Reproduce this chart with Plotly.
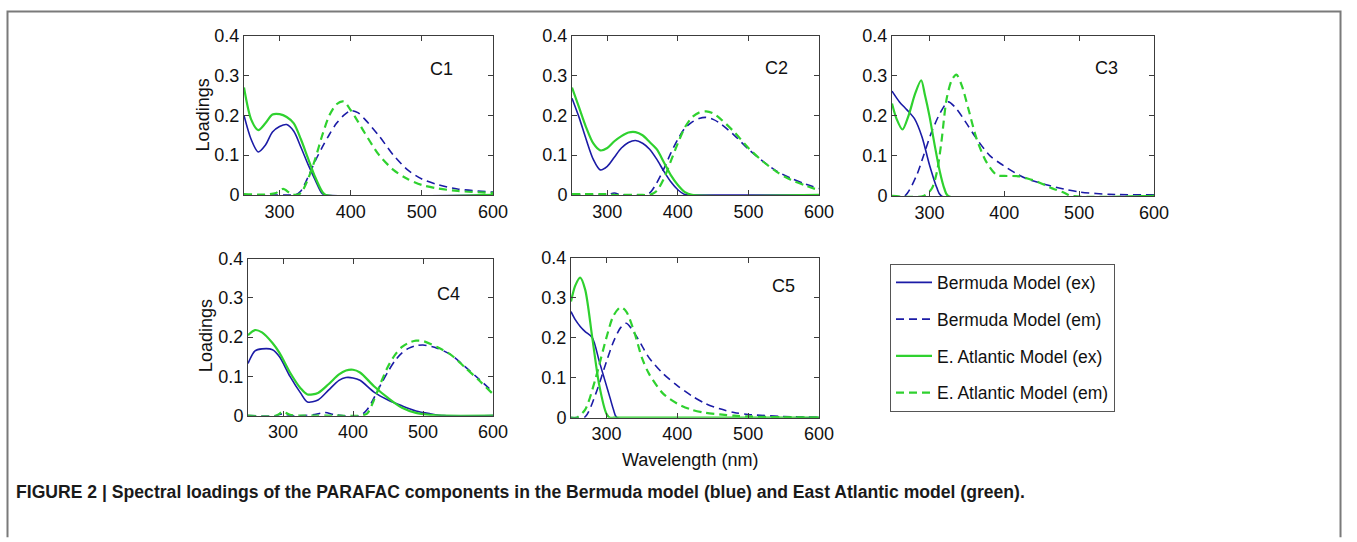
import plotly.graph_objects as go

W, H = 1357, 542

# ---- spectral loadings (wavelength in nm, loading) ----
# C1
C1_EX_WL = [250, 260, 270, 280, 290, 300, 310, 320, 330, 340, 350, 360, 365, 600]
C1_BERMUDA_EX = [0.200, 0.140, 0.108, 0.125, 0.158, 0.172, 0.177, 0.160, 0.120, 0.077, 0.038, 0.003, 0, 0]
C1_ATLANTIC_EX = [0.270, 0.190, 0.163, 0.180, 0.202, 0.203, 0.196, 0.180, 0.140, 0.092, 0.045, 0.008, 0, 0]
C1_EM_WL = [250, 280, 295, 305, 315, 322, 330, 340, 350, 360, 370, 380, 390, 400, 410, 420,
            440, 460, 480, 500, 520, 550, 600]
C1_BERMUDA_EM = [0, 0, 0, 0, 0, 0, 0.010, 0.045, 0.085, 0.120, 0.152, 0.180, 0.200, 0.212, 0.207,
                 0.190, 0.148, 0.100, 0.063, 0.040, 0.027, 0.015, 0.007]
C1_ATLANTIC_EM = [0.002, 0.001, 0.005, 0.015, 0.004, 0, 0.005, 0.040, 0.090, 0.150, 0.200, 0.228,
                  0.235, 0.213, 0.185, 0.155, 0.100, 0.063, 0.040, 0.025, 0.017, 0.010, 0.005]

# C2
C2_EX_WL = [250, 260, 270, 280, 290, 300, 310, 320, 330, 340, 350, 360, 370, 380, 390, 400, 410, 420, 600]
C2_BERMUDA_EX = [0.243, 0.195, 0.140, 0.090, 0.063, 0.072, 0.095, 0.118, 0.132, 0.137, 0.130, 0.115,
                 0.090, 0.060, 0.033, 0.013, 0.001, 0, 0]
C2_ATLANTIC_EX = [0.270, 0.220, 0.170, 0.130, 0.112, 0.118, 0.135, 0.148, 0.157, 0.158, 0.150, 0.133,
                  0.115, 0.083, 0.050, 0.025, 0.007, 0, 0]
C2_EM_WL = [250, 300, 310, 320, 350, 360, 370, 380, 390, 400, 410, 420, 430, 440, 450, 460, 480,
            500, 520, 540, 560, 580, 600]
C2_BERMUDA_EM = [0, 0, 0.005, 0, 0, 0.005, 0.030, 0.065, 0.105, 0.140, 0.168, 0.183, 0.192, 0.195,
                 0.190, 0.180, 0.150, 0.115, 0.085, 0.060, 0.042, 0.028, 0.016]
C2_ATLANTIC_EM = [0.002, 0.002, 0, 0, 0, 0, 0.010, 0.040, 0.085, 0.130, 0.170, 0.195, 0.207, 0.210,
                  0.205, 0.192, 0.158, 0.118, 0.085, 0.058, 0.038, 0.024, 0.012]

# C3
C3_BERMUDA_EX_WL = [250, 260, 270, 280, 290, 300, 310, 316, 600]
C3_BERMUDA_EX = [0.262, 0.235, 0.215, 0.193, 0.148, 0.078, 0.020, 0, 0]
C3_ATLANTIC_EX_WL = [250, 256, 264, 272, 281, 289, 294, 300, 307, 314, 320, 325, 600]
C3_ATLANTIC_EX = [0.231, 0.193, 0.166, 0.200, 0.256, 0.289, 0.252, 0.200, 0.127, 0.060, 0.018, 0, 0]
C3_BERMUDA_EM_WL = [250, 267, 283, 292, 303, 314, 325, 336, 350, 363, 381, 398, 416, 430, 456,
                    480, 500, 540, 600]
C3_BERMUDA_EM = [0, 0, 0.052, 0.100, 0.160, 0.206, 0.235, 0.218, 0.180, 0.143, 0.100, 0.077, 0.056,
                 0.043, 0.028, 0.017, 0.010, 0.004, 0.003]
C3_ATLANTIC_EM_WL = [250, 292, 303, 310, 316, 323, 330, 336, 343, 352, 363, 376, 390, 400, 420,
                     432, 445, 460, 480, 490, 600]
C3_ATLANTIC_EM = [0, 0, 0.018, 0.060, 0.135, 0.243, 0.290, 0.303, 0.277, 0.218, 0.143, 0.085, 0.052,
                  0.050, 0.049, 0.043, 0.035, 0.022, 0.008, 0, 0]

# C4
C4_EX_WL = [250, 260, 270, 285, 295, 310, 325, 335, 350, 365, 380, 390, 400, 410, 430, 450, 470,
            490, 510, 530, 600]
C4_BERMUDA_EX = [0.133, 0.165, 0.170, 0.168, 0.150, 0.100, 0.058, 0.035, 0.040, 0.065, 0.090, 0.097,
                 0.096, 0.090, 0.060, 0.040, 0.025, 0.012, 0.005, 0, 0]
C4_ATLANTIC_EX = [0.205, 0.218, 0.212, 0.185, 0.160, 0.110, 0.070, 0.054, 0.058, 0.080, 0.105, 0.115,
                  0.117, 0.110, 0.075, 0.045, 0.020, 0.007, 0.002, 0, 0]
C4_EM_WL = [250, 290, 300, 310, 330, 345, 360, 375, 410, 420, 430, 440, 450, 460, 470, 480, 490,
            500, 520, 540, 560, 580, 600]
C4_BERMUDA_EM = [0, 0, 0.005, 0, 0, 0.003, 0.008, 0.002, 0, 0.015, 0.045, 0.080, 0.112, 0.140,
                 0.160, 0.172, 0.178, 0.180, 0.172, 0.155, 0.125, 0.093, 0.060]
C4_ATLANTIC_EM = [0, 0, 0.010, 0.002, 0, 0, 0, 0, 0, 0.005, 0.040, 0.085, 0.125, 0.155, 0.175, 0.186,
                  0.191, 0.190, 0.175, 0.155, 0.123, 0.090, 0.055]

# C5
C5_EX_WL = [250, 256, 263, 270, 280, 290, 300, 305, 310, 315, 600]
C5_BERMUDA_EX = [0.265, 0.245, 0.228, 0.215, 0.200, 0.140, 0.080, 0.050, 0.020, 0, 0]
C5_ATLANTIC_EX = [0.290, 0.330, 0.350, 0.320, 0.200, 0.080, 0.010, 0, 0, 0, 0]
C5_EM_WL = [250, 258, 270, 285, 300, 310, 320, 328, 340, 350, 360, 380, 400, 420, 440, 460, 480,
            500, 550, 600]
C5_BERMUDA_EM = [0, 0, 0.002, 0.060, 0.140, 0.190, 0.225, 0.236, 0.210, 0.180, 0.150, 0.110, 0.080,
                 0.055, 0.035, 0.022, 0.013, 0.008, 0.003, 0.001]
C5_ATLANTIC_EM = [0, 0, 0.020, 0.100, 0.200, 0.255, 0.276, 0.265, 0.210, 0.150, 0.110, 0.060, 0.035,
                  0.020, 0.012, 0.008, 0.005, 0.003, 0.001, 0]

COMPONENTS = ["C1", "C2", "C3", "C4", "C5"]
X_TICKS = [300, 400, 500, 600]
Y_TICKS = [0, 0.1, 0.2, 0.3, 0.4]
Y_TICK_TEXT = ["0", "0.1", "0.2", "0.3", "0.4"]
SERIES_NAMES = ["Bermuda Model (ex)", "Bermuda Model (em)",
                "E. Atlantic Model (ex)", "E. Atlantic Model (em)"]

panel_series = [
    [(C1_EX_WL, C1_BERMUDA_EX), (C1_EM_WL, C1_BERMUDA_EM), (C1_EX_WL, C1_ATLANTIC_EX), (C1_EM_WL, C1_ATLANTIC_EM)],
    [(C2_EX_WL, C2_BERMUDA_EX), (C2_EM_WL, C2_BERMUDA_EM), (C2_EX_WL, C2_ATLANTIC_EX), (C2_EM_WL, C2_ATLANTIC_EM)],
    [(C3_BERMUDA_EX_WL, C3_BERMUDA_EX), (C3_BERMUDA_EM_WL, C3_BERMUDA_EM),
     (C3_ATLANTIC_EX_WL, C3_ATLANTIC_EX), (C3_ATLANTIC_EM_WL, C3_ATLANTIC_EM)],
    [(C4_EX_WL, C4_BERMUDA_EX), (C4_EM_WL, C4_BERMUDA_EM), (C4_EX_WL, C4_ATLANTIC_EX), (C4_EM_WL, C4_ATLANTIC_EM)],
    [(C5_EX_WL, C5_BERMUDA_EX), (C5_EM_WL, C5_BERMUDA_EM), (C5_EX_WL, C5_ATLANTIC_EX), (C5_EM_WL, C5_ATLANTIC_EM)],
]

# ---- styling ----
BLUE = "#1b1ba6"
GREEN = "#2fd12f"
FONT = "Liberation Sans, Arial, sans-serif"
TEXT_COLOR = "#111111"
AXIS_COLOR = "#3c3c3c"
series_style = [
    dict(color=BLUE, width=1.6, dash="solid"),
    dict(color=BLUE, width=1.6, dash="8px,5px"),
    dict(color=GREEN, width=2.2, dash="solid"),
    dict(color=GREEN, width=2.2, dash="8px,5px"),
]

# page-pixel grid used to place the panels (plot area spans GRID_W x GRID_H below GRID_TOP)
GRID_W, GRID_H, GRID_TOP = 1342.0, 525.0, 8.0


def fx(px):
    return px / GRID_W


def fy(py):
    return 1 - (py - GRID_TOP) / GRID_H


# axes boxes in page pixels: left, right, top, bottom
boxes = [
    (244, 493, 34, 194),
    (572, 819, 34, 194),
    (892, 1154, 34, 195),
    (248, 493, 258, 416),
    (571, 819, 257, 418),
]

fig = go.Figure()
layout = dict(
    width=W, height=H, autosize=False,
    margin=dict(l=0, r=0, t=0, b=0, pad=0),
    paper_bgcolor="white", plot_bgcolor="white",
    font=dict(family=FONT, size=18, color=TEXT_COLOR),
    showlegend=True,
)

for i, (name, series, box) in enumerate(zip(COMPONENTS, panel_series, boxes)):
    xa = "x" if i == 0 else f"x{i + 1}"
    ya = "y" if i == 0 else f"y{i + 1}"
    for j, (wl, vals) in enumerate(series):
        fig.add_trace(go.Scatter(
            x=wl, y=vals, mode="lines", xaxis=xa, yaxis=ya,
            line=dict(shape="spline", smoothing=0.8, **series_style[j]),
            name=SERIES_NAMES[j], legendgroup=SERIES_NAMES[j],
            showlegend=(i == 0), hoverinfo="skip",
        ))
    l, r, t, b = box
    common = dict(showline=True, linecolor=AXIS_COLOR, linewidth=1, mirror="ticks",
                  ticks="inside", ticklen=5, tickcolor=AXIS_COLOR, showgrid=False,
                  zeroline=False, tickfont=dict(family=FONT, size=18, color=TEXT_COLOR))
    layout["xaxis" if i == 0 else f"xaxis{i + 1}"] = dict(
        domain=[fx(l), fx(r)], range=[250, 600], tickvals=X_TICKS, anchor=ya, **common)
    layout["yaxis" if i == 0 else f"yaxis{i + 1}"] = dict(
        domain=[fy(b), fy(t)], range=[0, 0.4], tickvals=Y_TICKS,
        ticktext=Y_TICK_TEXT, anchor=xa, **common)

fig.update_layout(**layout)

# component labels inside each panel
label_pos = [(528, 0.317), (540, 0.32), (537, 0.32), (537, 0.31), (550, 0.33)]
for i, (name, (lx, ly)) in enumerate(zip(COMPONENTS, label_pos)):
    xa = "x" if i == 0 else f"x{i + 1}"
    ya = "y" if i == 0 else f"y{i + 1}"
    fig.add_annotation(x=lx, y=ly, xref=xa, yref=ya, text=name, showarrow=False,
                       xanchor="center", yanchor="middle",
                       font=dict(family=FONT, size=18, color=TEXT_COLOR))

# axis titles
for xc, yc in ((203, 114), (206, 336)):
    fig.add_annotation(x=fx(xc), y=fy(yc), xref="paper", yref="paper", text="Loadings",
                       textangle=-90, showarrow=False, xanchor="center", yanchor="middle",
                       font=dict(family=FONT, size=18, color=TEXT_COLOR))
fig.add_annotation(x=fx(690), y=fy(461), xref="paper", yref="paper", text="Wavelength (nm)",
                   showarrow=False, xanchor="center", yanchor="middle",
                   font=dict(family=FONT, size=18, color=TEXT_COLOR))

# figure caption
fig.add_annotation(
    x=fx(14), y=fy(493), xref="paper", yref="paper", xanchor="left", yanchor="middle",
    text="<b>FIGURE 2 | Spectral loadings of the PARAFAC components in the Bermuda model (blue) "
         "and East Atlantic model (green).</b>",
    showarrow=False, font=dict(family="Liberation Sans Narrow, Arial Narrow, sans-serif", size=17.6,
                               color="#1a1a1a"))

# outer frame (open at the bottom)
x0, x1, yt = fx(7.5), 1 - 1.5 / W, 1 - 1.5 / H
fig.add_shape(type="path", xref="paper", yref="paper",
              path=f"M {x0},-0.01 L {x0},{yt} L {x1},{yt} L {x1},-0.01",
              line=dict(color="#7a7a7a", width=2))

fig.update_layout(legend=dict(
    x=fx(890), y=fy(263), xanchor="left", yanchor="top",
    bordercolor="#555555", borderwidth=1, bgcolor="white",
    font=dict(family=FONT, size=17.5, color=TEXT_COLOR),
    tracegroupgap=11, itemwidth=36,
))

fig.write_html("out.html", config={"responsive": False})
